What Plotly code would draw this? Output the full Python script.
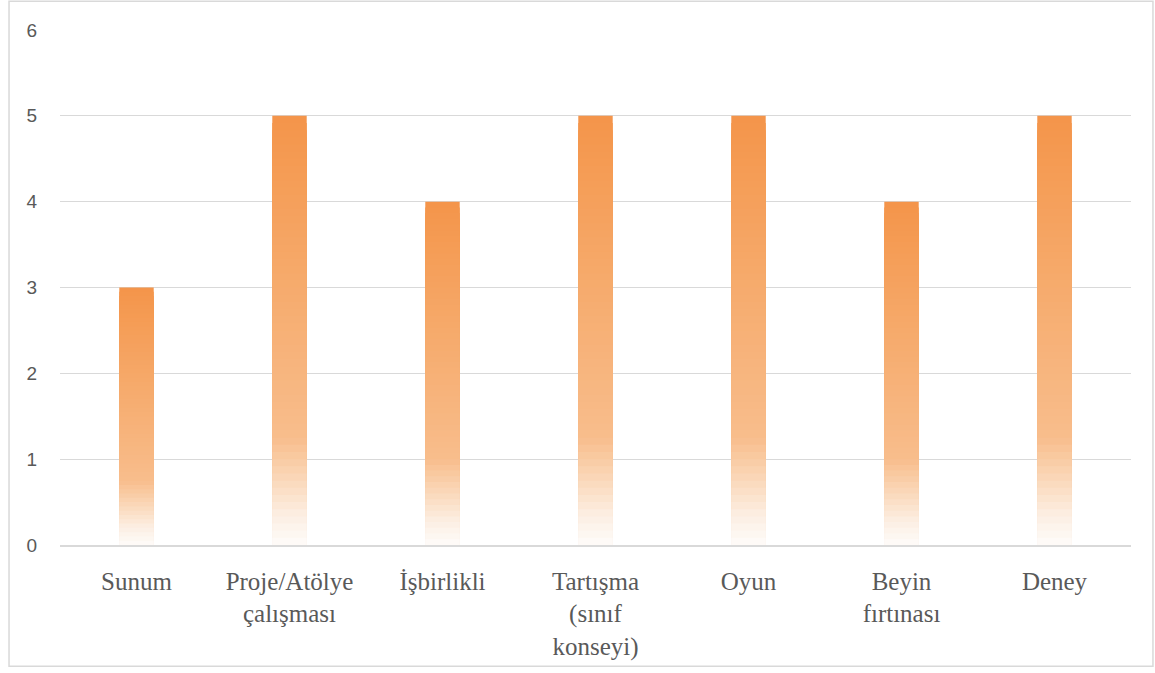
import plotly.graph_objects as go
from plotly.colors import sample_colorscale

categories = [
    "Sunum", "Proje/Atölye<br>çalışması", "İşbirlikli", "Tartışma<br>(sınıf<br>konseyi)",
    "Oyun", "Beyin<br>fırtınası", "Deney",
]
values = [3, 5, 4, 5, 5, 4, 5]
y_ticks = [0, 1, 2, 3, 4, 5, 6]

# gradient: bottom (0) near white -> top (1) orange
GRADIENT = [
    [0.0, "#FEFCFA"], [0.07, "#FCEEE2"], [0.16, "#FAD6B6"], [0.25, "#F8BD8C"],
    [0.6, "#F6AB6D"], [1.0, "#F4954A"],
]
N_SEG = 60
BAR_WIDTH = 0.225

fig = go.Figure()
# overlapping bars, tallest (orange) first, each shorter one lighter -> vertical gradient
for k in range(N_SEG):
    top = (N_SEG - k) / N_SEG
    color = sample_colorscale(GRADIENT, [top - 0.5 / N_SEG])[0]
    fig.add_trace(go.Bar(
        x=categories,
        y=[v * top for v in values],
        width=BAR_WIDTH,
        marker=dict(color=color, line=dict(width=0)),
        showlegend=False, hoverinfo="skip",
    ))

# outer chart border
fig.add_shape(type="rect", xref="paper", yref="paper",
              x0=-0.0476, x1=1.0205, y0=-0.2355, y1=1.056,
              line=dict(color="#D9D9D9", width=1.5), fillcolor="rgba(0,0,0,0)")

fig.update_layout(
    width=1155, height=673, barmode="overlay",
    plot_bgcolor="white", paper_bgcolor="white",
    margin=dict(l=60, r=24, t=30, b=125),
    xaxis=dict(
        tickfont=dict(family="Liberation Serif", size=25, color="#595959"),
        showgrid=False, showline=True, linecolor="#D9D9D9", linewidth=1.5,
        ticks="outside", ticklen=13, tickcolor="rgba(0,0,0,0)",
    ),
    yaxis=dict(
        range=[0, 6], tickvals=y_ticks,
        tickfont=dict(family="Liberation Sans", size=19, color="#595959"),
        showgrid=True, gridcolor="#D9D9D9", gridwidth=1, zeroline=False,
        ticks="outside", ticklen=18, tickcolor="rgba(0,0,0,0)",
    ),
)

fig.write_html("out.html", config={"displayModeBar": False},
               post_script="document.body.style.margin='0';")
